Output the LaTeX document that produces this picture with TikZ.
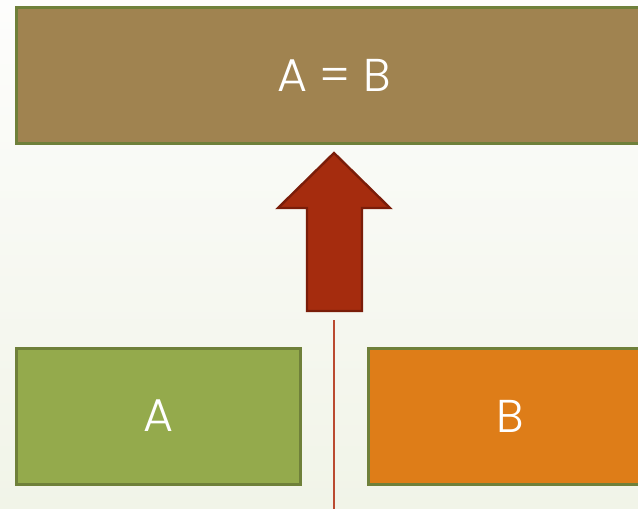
\documentclass[tikz,border=0pt]{standalone}
\usepackage{fontspec}
\setmainfont{Poppins}[UprightFont=* Light]
\definecolor{bgtop}{HTML}{FDFDFC}
\definecolor{bgbot}{HTML}{F1F4E8}
\definecolor{brownbox}{HTML}{A08350}
\definecolor{greenbox}{HTML}{94AA4C}
\definecolor{orangebox}{HTML}{DE7D18}
\definecolor{boxedge}{HTML}{6F803A}
\definecolor{arrowfill}{HTML}{A52C0E}
\definecolor{arrowedge}{HTML}{7A1D09}
\definecolor{linered}{HTML}{BA4A30}
\tikzset{
  box/.style={draw=boxedge, line width=3pt, rectangle, inner sep=0pt, text=white, font=\fontsize{46}{50}\selectfont},
}
\begin{document}
\begin{tikzpicture}[x=1pt,y=-1pt]
\useasboundingbox (0,0) rectangle (638,509);
\clip (0,0) rectangle (638,509);
\shade[top color=bgtop, bottom color=bgbot] (0,0) rectangle (638,509);
\node[box, fill=brownbox, minimum width=636pt, minimum height=136pt] (ab) at (334,75.5) {A = B};
\node[box, fill=greenbox, minimum width=284pt, minimum height=136pt] (a) at (158,416) {A};
\node[box, fill=orangebox, minimum width=284pt, minimum height=136pt] (b) at (510,416) {B};
\coordinate (tip) at (334,153);
\draw[fill=arrowfill, draw=arrowedge, line width=2.4pt, line join=miter]
  (tip) -- (390,208) -- (362,208) -- (362,311) -- (307,311) -- (307,208) -- (278,208) -- cycle;
\coordinate (lt) at (334,320);
\coordinate (lb) at (334,512);
\draw[linered, line width=1.6pt] (lt) -- (lb);
\end{tikzpicture}
\end{document}
